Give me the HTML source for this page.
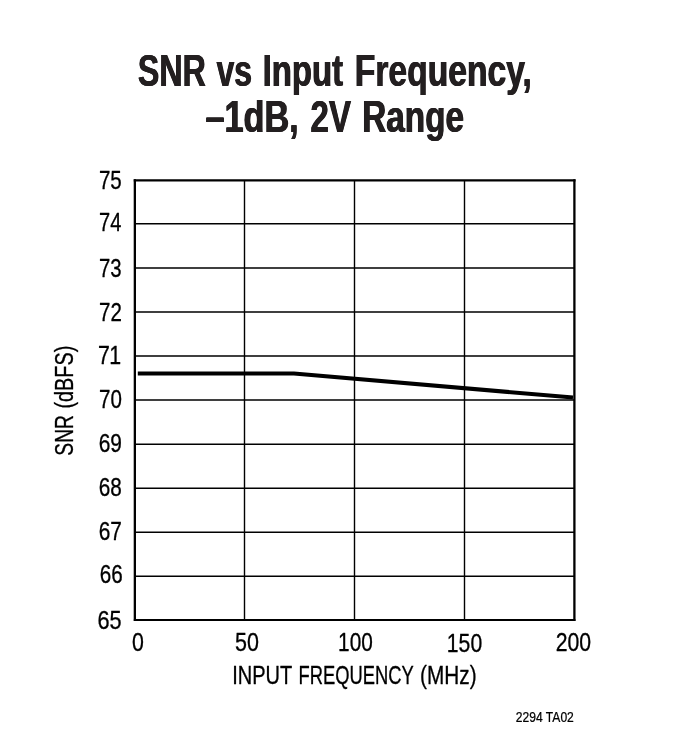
<!DOCTYPE html>
<html lang="en">
<head>
<meta charset="utf-8">
<title>SNR vs Input Frequency</title>
<style>
html,body{margin:0;padding:0;background:#fff;}
body{width:675px;height:750px;overflow:hidden;}
svg{display:block;will-change:transform;}
text{font-family:"Liberation Sans",sans-serif;stroke-linejoin:round;}
.title text{font-weight:bold;fill:#231f20;text-shadow:0.5px 0 0 #231f20,-0.5px 0 0 #231f20;}
.lab text{fill:#000;stroke:#000;stroke-width:0.32px;}
.lab.sm text{stroke-width:0.25px;}
</style>
</head>
<body>
<svg width="675" height="750" viewBox="0 0 675 750">
<rect width="675" height="750" fill="#fff"/>
<g class="title"><text transform="translate(137.80,85.90) scale(0.7280,1)" font-size="44.3">SNR</text>
<text transform="translate(216.60,85.90) scale(0.7181,1)" font-size="44.3">vs</text>
<text transform="translate(262.63,85.90) scale(0.7431,1)" font-size="44.3">Input</text>
<text transform="translate(354.79,85.90) scale(0.7597,1)" font-size="44.3">Frequency,</text>
<text transform="translate(205.46,132.00) scale(0.7733,1)" font-size="44.3">–1dB,</text>
<text transform="translate(310.41,132.00) scale(0.7508,1)" font-size="44.3">2V</text>
<text transform="translate(362.21,132.00) scale(0.7520,1)" font-size="44.3">Range</text></g>
<path d="M244.5 180.3V619.9 M354.5 180.3V619.9 M464.5 180.3V619.9" stroke="#000" stroke-width="1.4" fill="none"/>
<path d="M134.85 223.85H574.4 M134.85 267.90H574.4 M134.85 312.00H574.4 M134.85 356.00H574.4 M134.85 400.00H574.4 M134.85 444.25H574.4 M134.85 488.25H574.4 M134.85 532.25H574.4 M134.85 576.25H574.4" stroke="#000" stroke-width="1.5" fill="none"/>
<g stroke="#000" fill="none" stroke-linecap="square"><path d="M134.85 180.3V619.95M574.4 180.3V619.95" stroke-width="2.3"/><path d="M134.85 180.3H574.4" stroke-width="2.2"/><path d="M134.85 619.95H574.4" stroke-width="2.0"/></g>
<polyline points="137.8,373.5 294,373.5 573,397.55" fill="none" stroke="#000" stroke-width="4.1" stroke-linejoin="miter"/>
<g class="lab"><text transform="translate(98.91,188.79) scale(0.8211,1)" font-size="25.0">75</text>
<text transform="translate(99.03,230.84) scale(0.8017,1)" font-size="25.0">74</text>
<text transform="translate(99.01,276.79) scale(0.8133,1)" font-size="25.0">73</text>
<text transform="translate(99.00,320.74) scale(0.8213,1)" font-size="25.0">72</text>
<text transform="translate(97.97,363.84) scale(0.8551,1)" x="0 13.30" font-size="25.0">71</text>
<text transform="translate(99.00,407.99) scale(0.8229,1)" font-size="25.0">70</text>
<text transform="translate(98.69,452.09) scale(0.8367,1)" font-size="25.0">69</text>
<text transform="translate(98.80,496.19) scale(0.8288,1)" font-size="25.0">68</text>
<text transform="translate(98.69,539.79) scale(0.8330,1)" font-size="25.0">67</text>
<text transform="translate(99.80,582.99) scale(0.8249,1)" font-size="25.0">66</text>
<text transform="translate(97.55,629.29) scale(0.8675,1)" font-size="25.0">65</text>
<text transform="translate(131.98,650.89) scale(0.8528,1)" font-size="25.0">0</text>
<text transform="translate(234.98,651.29) scale(0.8589,1)" font-size="25.0">50</text>
<text transform="translate(338.07,650.89) scale(0.8317,1)" font-size="25.0">100</text>
<text transform="translate(446.85,651.89) scale(0.8470,1)" font-size="25.0">150</text>
<text transform="translate(555.67,650.89) scale(0.8488,1)" font-size="25.0">200</text></g>
<g class="lab"><text transform="translate(232.13,683.64) scale(0.8006,1)" font-size="25.0">INPUT</text>
<text transform="translate(298.55,683.64) scale(0.7337,1)" font-size="25.0">FREQUENCY</text>
<text transform="translate(420.09,683.64) scale(0.8313,1)" font-size="25.0">(MHz)</text></g>
<g class="lab"><text transform="translate(72.94,455.64) rotate(-90) scale(0.7673,1)" font-size="25.0">SNR</text>
<text transform="translate(72.94,408.57) rotate(-90) scale(0.7953,1)" font-size="25.0">(dBFS)</text></g>
<g class="lab sm"><text transform="translate(515.80,721.73) scale(0.8464,1)" font-size="14.3">2294 TA02</text></g>
</svg>
</body>
</html>
